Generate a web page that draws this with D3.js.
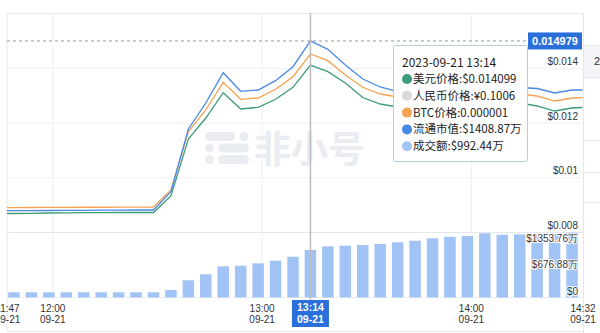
<!DOCTYPE html>
<html><head><meta charset="utf-8">
<script src="https://cdn.jsdelivr.net/npm/d3@7"></script>
<style>
body{margin:0;background:#fff;overflow:hidden;}
svg{display:block;font-family:"Liberation Sans",Arial,sans-serif;}
</style></head><body>
<svg id="c" width="600" height="333"></svg>
<script>
// ---------- data ----------
const dateStr = "2023-09-21";
const lineTimes = ["11:47","11:49","11:54","11:59","12:04","12:09","12:14","12:19","12:24","12:29","12:34","12:39","12:44","12:49","12:54","12:59","13:04","13:09","13:14","13:19","13:24","13:29","13:34","13:39","13:44","13:49","13:54","13:59","14:04","14:09","14:14","14:19","14:24","14:29","14:32"];
const usdPrice = [0.008676,0.008676,0.008683,0.008694,0.008701,0.008705,0.008709,0.008712,0.008712,0.008712,0.009315,0.011397,0.012164,0.013089,0.012493,0.012555,0.012848,0.013286,0.014099,0.013856,0.013443,0.012913,0.012676,0.012566,0.01253,0.012493,0.01253,0.012603,0.012639,0.012676,0.012712,0.012603,0.01242,0.01253,0.012548];
const btcPriceLine = [0.008888,0.008888,0.008895,0.0089,0.0089,0.008905,0.008905,0.00891,0.00891,0.00891,0.009534,0.011671,0.012457,0.013468,0.012848,0.012895,0.013213,0.013673,0.014502,0.014258,0.013735,0.013286,0.013041,0.012932,0.012895,0.012858,0.012895,0.01295,0.012986,0.013023,0.013041,0.012968,0.012785,0.012895,0.012906];
const marketCapLine = [0.008778,0.008778,0.008782,0.008785,0.008789,0.008793,0.008796,0.0088,0.008804,0.008804,0.009472,0.011763,0.012712,0.013819,0.01314,0.013187,0.013527,0.014038,0.014979,0.014674,0.0141,0.013589,0.013297,0.013125,0.013096,0.013059,0.013096,0.013169,0.013206,0.013242,0.013279,0.013242,0.013078,0.013187,0.013187];
const barTimes = ["11:49","11:54","11:59","12:04","12:09","12:14","12:19","12:24","12:29","12:34","12:39","12:44","12:49","12:54","12:59","13:04","13:09","13:14","13:19","13:24","13:29","13:34","13:39","13:44","13:49","13:54","13:59","14:04","14:09","14:14","14:19","14:24","14:29"];
const volume = [133,133,133,133,133,133,133,133,133,192,439,593,797,812,873,940,1042,1213,1308,1323,1341,1366,1410,1451,1512,1553,1571,1640,1604,1614,1614,1622,1655]; // 万
const priceTicks = [0.014,0.012,0.01,0.008];
const priceTickLabels = ["$0.014","$0.012","$0.01","$0.008"];
const volTicks = [1353.76,676.88,0];
const volTickLabels = ["$1353.76万","$676.88万","$0"];
const xTicks = ["11:47","12:00","13:00","14:00","14:32"];
const xTickDate = "09-21";
const markLine = 0.014979;
const hoverTime = "13:14";
const tipTitle = "2023-09-21 13:14";
const tipRows = [
  {label:"美元价格:$0.014099", color:"#3d9c78"},
  {label:"人民币价格:¥0.1006", color:"#d9d9d9"},
  {label:"BTC价格:0.000001", color:"#f5a253"},
  {label:"流通市值:$1408.87万", color:"#4a88e6"},
  {label:"成交额:$992.44万", color:"#a2c3f5"}
];
const seriesColors = {usd:"#3d9c78", btc:"#f5a253", cap:"#4a88e6", vol:"#a2c3f5"};

// ---------- layout ----------
const L = 7, R = 583, PT = 13, PB = 232, VB = 297.5;
const parse = d3.timeParse("%Y-%m-%d %H:%M");
const t = s => parse(dateStr + " " + s);

const x = d3.scaleTime().domain([t("11:47"), t("14:32")]).range([7, 582.5]);
const y = d3.scaleLinear().domain([0.008, 0.016]).range([PB, PT]);
const yv = d3.scaleLinear().domain([0, 1353.76]).range([VB, 244.5]);

const svg = d3.select("#c");

// right-side partial panel
svg.append("rect").attr("x",584).attr("y",45).attr("width",16).attr("height",32).attr("fill","#f3f4f8");
[45,77,140,172,202].forEach(v=>svg.append("line").attr("x1",584).attr("x2",600).attr("y1",v+0.5).attr("y2",v+0.5).attr("stroke","#e8eaef"));
svg.append("text").attr("x",594).attr("y",65).attr("font-size",11).attr("fill","#333").text("2");

// watermark
const wm = svg.append("g").attr("fill","#e9ecf1");
wm.append("rect").attr("x",205).attr("y",132).attr("width",30).attr("height",9).attr("rx",4.5);
wm.append("circle").attr("cx",244).attr("cy",136.5).attr("r",4.5);
wm.append("circle").attr("cx",209.5).attr("cy",148).attr("r",4.5);
wm.append("rect").attr("x",218).attr("y",143.5).attr("width",31).attr("height",9).attr("rx",4.5);
wm.append("circle").attr("cx",209.5).attr("cy",159.5).attr("r",4.5);
wm.append("rect").attr("x",218).attr("y",155).attr("width",31).attr("height",9).attr("rx",4.5);
wm.append("text").attr("x",254).attr("y",163).attr("font-size",37).attr("font-weight","bold")
  .attr("font-family","'Noto Sans CJK SC',sans-serif").text("非小号");

// frame
svg.append("line").attr("x1",L).attr("x2",L).attr("y1",PT).attr("y2",331).attr("stroke","#e4e7ed");
svg.append("line").attr("x1",R+0.5).attr("x2",R+0.5).attr("y1",PT).attr("y2",333).attr("stroke","#e4e7ed");
svg.append("line").attr("x1",L).attr("x2",R).attr("y1",PT+0.5).attr("y2",PT+0.5).attr("stroke","#e4e7ed");
svg.append("line").attr("x1",L).attr("x2",R).attr("y1",331.5).attr("y2",331.5).attr("stroke","#e4e7ed");

// horizontal grid (price)
svg.append("g").attr("transform",`translate(${L},0)`)
  .call(d3.axisRight(y).tickValues(priceTicks).tickSize(R-L).tickFormat(""))
  .call(g=>{g.select(".domain").remove(); g.selectAll("line").attr("stroke","#eef0f4");});
svg.append("line").attr("x1",L).attr("x2",R).attr("y1",PB+0.5).attr("y2",PB+0.5).attr("stroke","#e4e7ed");
svg.append("line").attr("x1",L).attr("x2",R).attr("y1",VB).attr("y2",VB).attr("stroke","#eceef2");

// vertical grid
svg.append("g").attr("transform",`translate(0,${PT})`)
  .call(d3.axisBottom(x).tickValues(["12:00","13:00","14:00"].map(t)).tickSize(VB-PT).tickFormat(""))
  .call(g=>{g.select(".domain").remove(); g.selectAll("line").attr("stroke","#eef0f4");});

// volume bars
svg.append("g").selectAll("rect").data(volume).join("rect")
  .attr("x",(d,i)=>x(t(barTimes[i]))-5.75).attr("width",11.5)
  .attr("y",d=>yv(d)).attr("height",d=>VB-yv(d)).attr("fill",seriesColors.vol);

// lines
const line = d3.line().x((d,i)=>x(t(lineTimes[i]))).y(d=>y(d));
[[usdPrice,seriesColors.usd],[btcPriceLine,seriesColors.btc],[marketCapLine,seriesColors.cap]].forEach(([arr,c])=>{
  svg.append("path").datum(arr).attr("d",line).attr("fill","none").attr("stroke",c).attr("stroke-width",1.3);
});

// price axis labels
svg.append("g").attr("transform",`translate(${R-5},0)`)
  .call(d3.axisLeft(y).tickValues(priceTicks).tickSize(0).tickPadding(0).tickFormat((d,i)=>priceTickLabels[i]))
  .call(g=>{g.select(".domain").remove(); g.selectAll("text").attr("dy","-0.35em").attr("fill","#333").attr("font-size",10).attr("font-family","'Liberation Sans',Arial,sans-serif");});

// volume axis labels
svg.append("g").attr("transform",`translate(${R-5},0)`)
  .call(d3.axisLeft(yv).tickValues(volTicks).tickSize(0).tickPadding(0).tickFormat((d,i)=>volTickLabels[i]))
  .call(g=>{g.select(".domain").remove(); g.selectAll("text").attr("dy","-0.35em").attr("fill","#333").attr("font-size",10)
    .attr("font-family","'Liberation Sans',Arial,sans-serif").attr("stroke","#fff").attr("stroke-width",2).attr("paint-order","stroke");});

// x axis labels
const xa = svg.append("g").attr("transform",`translate(0,${VB})`)
  .call(d3.axisBottom(x).tickValues(xTicks.map(t)).tickSize(0).tickFormat(""));
xa.select(".domain").remove();
xa.selectAll(".tick").each(function(d,i){
  const g = d3.select(this);
  g.append("text").attr("y",14).attr("text-anchor","middle").attr("fill","#333").attr("font-size",10).text(xTicks[i]);
  g.append("text").attr("y",25).attr("text-anchor","middle").attr("fill","#333").attr("font-size",10).text(xTickDate);
});

// crosshair
const hx = x(t(hoverTime));
svg.append("line").attr("x1",hx).attr("x2",hx).attr("y1",PT).attr("y2",300).attr("stroke","#bdbdbd").attr("stroke-width",1.5);
// mark line
svg.append("line").attr("x1",L).attr("x2",528).attr("y1",y(markLine)).attr("y2",y(markLine))
  .attr("stroke","#999").attr("stroke-dasharray","3,3");
svg.append("rect").attr("x",528).attr("y",y(markLine)-8.5).attr("width",54).attr("height",17).attr("fill","#2b6fdb");
svg.append("text").attr("x",555).attr("y",y(markLine)+4).attr("text-anchor","middle").attr("fill","#fff")
  .attr("font-size",11).attr("font-weight","bold").text(markLine.toString());

// x hover label
svg.append("rect").attr("x",hx-18.5).attr("y",300).attr("width",37).attr("height",27).attr("fill","#2b6fdb");
svg.append("text").attr("x",hx).attr("y",311).attr("text-anchor","middle").attr("fill","#fff").attr("font-size",10.5).attr("font-weight","bold").text(hoverTime);
svg.append("text").attr("x",hx).attr("y",323).attr("text-anchor","middle").attr("fill","#fff").attr("font-size",10.5).attr("font-weight","bold").text(xTickDate);

// tooltip
const tip = svg.append("g").attr("font-family","'Noto Sans CJK SC','Liberation Sans',sans-serif");
tip.append("rect").attr("x",393.5).attr("y",45.5).attr("width",134).attr("height",116).attr("rx",2)
  .attr("fill","#fff").attr("fill-opacity",0.96).attr("stroke","#b7ced8");
tip.append("text").attr("x",402).attr("y",66.5).attr("font-size",12).attr("fill","#222").text(tipTitle);
tipRows.forEach((r,i)=>{
  const cy = 79 + i*16.8;
  tip.append("circle").attr("cx",407).attr("cy",cy).attr("r",5).attr("fill",r.color);
  tip.append("text").attr("x",413).attr("y",cy+4).attr("font-size",11.5).attr("fill","#222").text(r.label);
});
</script>
</body></html>
